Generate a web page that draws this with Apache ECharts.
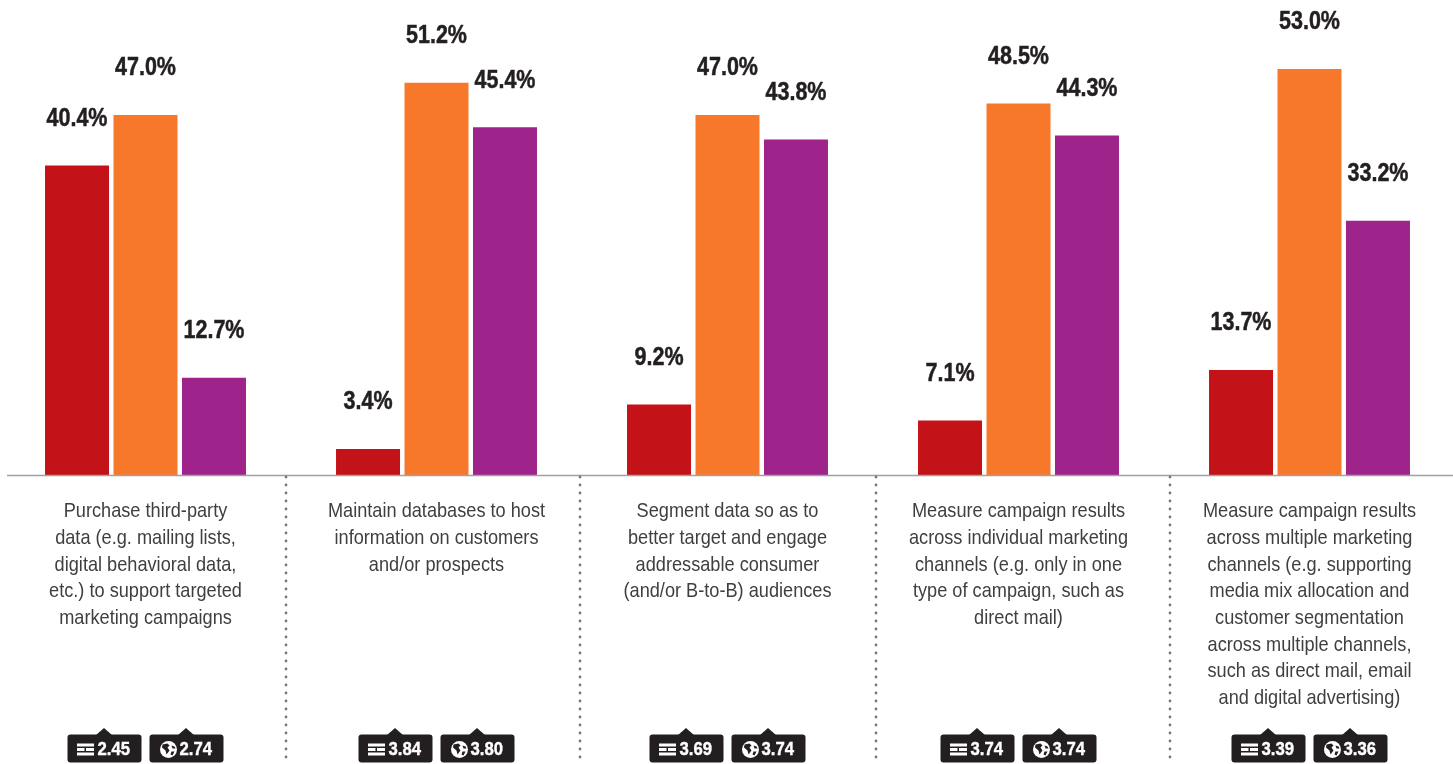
<!DOCTYPE html>
<html>
<head>
<meta charset="utf-8">
<style>html,body{margin:0;padding:0;background:#fff}#chart{width:1453px;height:764px}</style>
<script src="https://cdn.jsdelivr.net/npm/echarts@6/dist/echarts.min.js"></script>
</head>
<body>
<div id="chart"></div>
<script>
const categories = [
  "Purchase third-party\ndata (e.g. mailing lists,\ndigital behavioral data,\netc.) to support targeted\nmarketing campaigns",
  "Maintain databases to host\ninformation on customers\nand/or prospects",
  "Segment data so as to\nbetter target and engage\naddressable consumer\n(and/or B-to-B) audiences",
  "Measure campaign results\nacross individual marketing\nchannels (e.g. only in one\ntype of campaign, such as\ndirect mail)",
  "Measure campaign results\nacross multiple marketing\nchannels (e.g. supporting\nmedia mix allocation and\ncustomer segmentation\nacross multiple channels,\nsuch as direct mail, email\nand digital advertising)"
];
const redValues = [40.4, 3.4, 9.2, 7.1, 13.7];
const orangeValues = [47.0, 51.2, 47.0, 48.5, 53.0];
const purpleValues = [12.7, 45.4, 43.8, 44.3, 33.2];
const newsScores = ["2.45", "3.84", "3.69", "3.74", "3.39"];
const globeScores = ["2.74", "3.80", "3.74", "3.74", "3.36"];
const dividerX = [286, 580, 876, 1170];

const FONT = '"Liberation Sans",Arial,sans-serif';
const DARK = '#231f20';
const BAR_WIDTH = 64;
const BAR_STEP = 68.5;

const chart = echarts.init(document.getElementById('chart'), null, {renderer: 'canvas'});

function barSeries(name, data, color) {
  return {name, type: 'bar', data, barWidth: BAR_WIDTH, barGap: '7%', itemStyle: {color}, silent: true};
}

chart.setOption({
  animation: false,
  grid: {left: 0, width: 1455, top: 0, height: 475, containLabel: false, outerBoundsMode: 'none'},
  xAxis: {type: 'category', data: categories, axisLine: {show: false}, axisTick: {show: false}, axisLabel: {show: false}},
  yAxis: {type: 'value', min: 0, max: 62, show: false, splitLine: {show: false}},
  series: [
    barSeries('red', redValues, '#c41318'),
    barSeries('orange', orangeValues, '#f7782a'),
    barSeries('purple', purpleValues, '#9e248c')
  ]
});

// One score badge: body with a small pointer on top, then icon and number.
function badge(x, y, score, icon) {
  const children = [
    {type: 'rect', shape: {x: 0, y: 0, width: 74, height: 28, r: 3}, style: {fill: DARK}},
    {type: 'polygon', shape: {points: [[28, 1], [36.5, -6.5], [45, 1]]}, style: {fill: DARK}},
    {type: 'text', x: 30, y: 15, scaleX: 0.88, style: {
      text: score, fill: '#fff', stroke: '#fff', lineWidth: 0.4, font: 'bold 19px ' + FONT,
      textAlign: 'left', textVerticalAlign: 'middle'
    }}
  ].concat(icon);
  return {type: 'group', x, y, children};
}

const newsIcon = [
  {type: 'rect', shape: {x: 9.5, y: 9, width: 17, height: 3}, style: {fill: '#fff'}},
  {type: 'rect', shape: {x: 9.5, y: 13.5, width: 7.5, height: 3}, style: {fill: '#fff'}},
  {type: 'rect', shape: {x: 18.5, y: 13.5, width: 8, height: 3}, style: {fill: '#fff'}},
  {type: 'rect', shape: {x: 9.5, y: 18, width: 17, height: 3}, style: {fill: '#fff'}}
];
const globeIcon = [
  {type: 'circle', shape: {cx: 19, cy: 15, r: 8.5}, style: {fill: '#fff'}},
  {type: 'polygon', shape: {points: [[13, 10], [18, 9], [20, 11], [18, 13], [20, 16], [17, 20], [16, 16], [12.5, 13]]}, style: {fill: DARK}},
  {type: 'polygon', shape: {points: [[22, 11], [25, 12], [26, 14], [23, 14]]}, style: {fill: DARK}},
  {type: 'polygon', shape: {points: [[22, 17], [25, 17], [23, 21], [21, 20]]}, style: {fill: DARK}}
];

const baseY = chart.convertToPixel({yAxisIndex: 0}, 0);
const graphics = [
  {type: 'line', shape: {x1: 7, y1: baseY + 0.5, x2: 1453, y2: baseY + 0.5},
   style: {stroke: '#a0a1a4', lineWidth: 1.5}, z: 5}
];
dividerX.forEach(x => graphics.push({
  type: 'line', shape: {x1: x, y1: baseY + 2, x2: x, y2: 764},
  style: {stroke: '#77787b', lineWidth: 2.8, lineDash: [0.1, 7.9], lineCap: 'round'}, z: 5
}));

// The condensed type is drawn by narrowing the text horizontally.
const groups = [redValues, orangeValues, purpleValues];
categories.forEach((c, i) => {
  const cx = chart.convertToPixel({xAxisIndex: 0}, i);
  graphics.push({
    type: 'text', x: cx, y: baseY + 23, scaleX: 0.865,
    style: {text: c, font: '21px ' + FONT, lineHeight: 26.7, fill: '#3f3f41', textAlign: 'center', textVerticalAlign: 'top'}
  });
  groups.forEach((values, g) => {
    graphics.push({
      type: 'text',
      x: cx + (g - 1) * BAR_STEP,
      y: chart.convertToPixel({yAxisIndex: 0}, values[i]) - 46.5,
      scaleX: 0.86,
      style: {
        text: values[i].toFixed(1) + '%', font: 'bold 25px ' + FONT, fill: DARK,
        stroke: DARK, lineWidth: 0.5, textAlign: 'center', textVerticalAlign: 'middle'
      }
    });
  });
  graphics.push(badge(cx - 78, 734.5, newsScores[i], newsIcon));
  graphics.push(badge(cx + 4, 734.5, globeScores[i], globeIcon));
});
chart.setOption({graphic: graphics});
</script>
</body>
</html>
